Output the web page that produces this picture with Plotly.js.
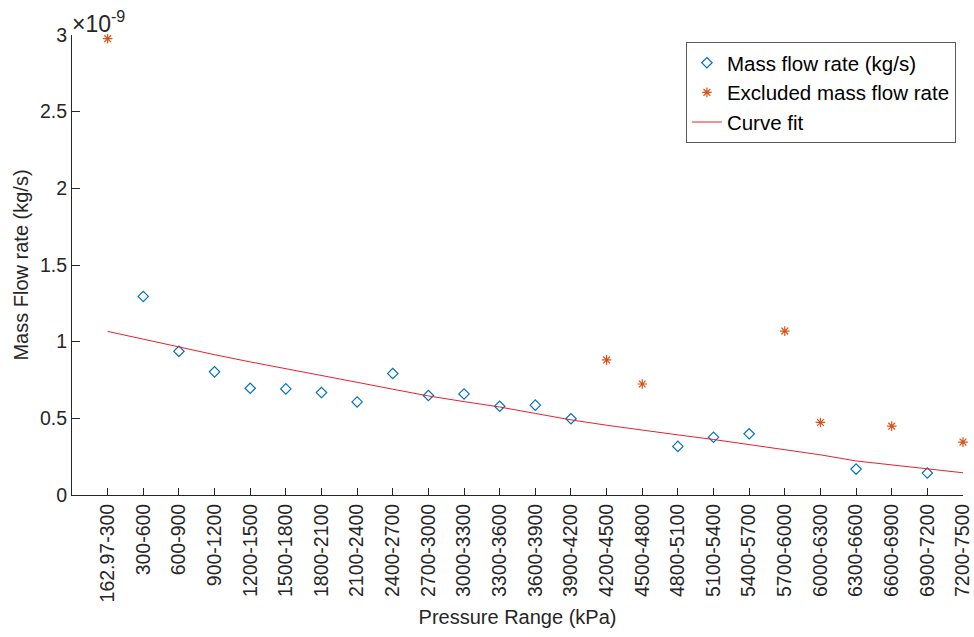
<!DOCTYPE html>
<html>
<head>
<meta charset="utf-8">
<script src="https://cdn.plot.ly/plotly-3.0.1.min.js"></script>
<style>
  html, body { margin: 0; padding: 0; background: #fff; }
  #chart { width: 974px; height: 637px; }
</style>
</head>
<body>
<div id="chart"></div>
<script>
// Pressure range categories (kPa)
const categories = [
  "162.97-300", "300-600", "600-900", "900-1200", "1200-1500", "1500-1800",
  "1800-2100", "2100-2400", "2400-2700", "2700-3000", "3000-3300", "3300-3600",
  "3600-3900", "3900-4200", "4200-4500", "4500-4800", "4800-5100", "5100-5400",
  "5400-5700", "5700-6000", "6000-6300", "6300-6600", "6600-6900", "6900-7200",
  "7200-7500"
];

// Mass flow rate (kg/s), in units of 1e-9
const massCats = [
  "300-600", "600-900", "900-1200", "1200-1500", "1500-1800", "1800-2100",
  "2100-2400", "2400-2700", "2700-3000", "3000-3300", "3300-3600", "3600-3900",
  "3900-4200", "4800-5100", "5100-5400", "5400-5700", "6300-6600", "6900-7200"
];
const massValues = [
  1.295, 0.937, 0.803, 0.696, 0.692, 0.668,
  0.607, 0.792, 0.649, 0.659, 0.579, 0.586,
  0.497, 0.317, 0.377, 0.399, 0.169, 0.143
];

// Excluded mass flow rate, in units of 1e-9
const excludedCats = [
  "162.97-300", "4200-4500", "4500-4800", "5700-6000", "6000-6300", "6600-6900", "7200-7500"
];
const excludedValues = [2.976, 0.881, 0.724, 1.069, 0.473, 0.449, 0.345];

// Curve fit, in units of 1e-9 (read at each category)
const fitValues = [
  1.067, 1.015, 0.963, 0.915, 0.868, 0.822, 0.778, 0.735, 0.690, 0.646,
  0.609, 0.574, 0.532, 0.490, 0.455, 0.422, 0.392, 0.362, 0.330, 0.295,
  0.262, 0.222, 0.195, 0.168, 0.145
];

// Y axis ticks
const yTickVals = [0, 0.5, 1, 1.5, 2, 2.5, 3];
const yTickText = ["0", "0.5", "1", "1.5", "2", "2.5", "3"];

const FONT = "Liberation Sans, Arial, Helvetica, sans-serif";
const AX = "#262626";

const traces = [
  {
    type: "scatter", mode: "markers", name: "Mass flow rate (kg/s)",
    x: massCats, y: massValues, cliponaxis: false,
    marker: { symbol: "diamond-open", size: 8, color: "#0072BD", line: { width: 1.2, color: "#0072BD" } }
  },
  {
    type: "scatter", mode: "markers", name: "Excluded mass flow rate",
    x: excludedCats, y: excludedValues, cliponaxis: false,
    marker: { symbol: "asterisk-open", size: 8, color: "#D95319", line: { width: 1.2, color: "#D95319" } }
  },
  {
    type: "scatter", mode: "lines", name: "Curve fit",
    x: categories, y: fitValues, cliponaxis: false,
    line: { color: "#E8202E", width: 1 }
  }
];

const layout = {
  width: 974, height: 637,
  paper_bgcolor: "#ffffff", plot_bgcolor: "#ffffff",
  margin: { l: 72, r: 11, t: 35, b: 142 },
  font: { family: FONT, size: 19.5, color: AX },
  showlegend: true,
  legend: {
    x: 0.689, y: 0.985, xanchor: "left", yanchor: "top",
    bgcolor: "#ffffff", bordercolor: "#5a5a5a", borderwidth: 1,
    font: { family: FONT, size: 20.5, color: "#000" },
    tracegroupgap: 0
  },
  xaxis: {
    type: "category", categoryorder: "array", categoryarray: categories,
    range: [-1, 24], tickangle: -90,
    showline: true, linecolor: AX, linewidth: 1,
    ticks: "inside", ticklen: 7, tickcolor: AX, tickwidth: 1,
    showgrid: false, zeroline: false,
    tickfont: { family: FONT, size: 19.5, color: AX },
    title: { text: "Pressure Range (kPa)", font: { family: FONT, size: 20, color: AX }, standoff: 8 }
  },
  yaxis: {
    range: [0, 3], tickvals: yTickVals, ticktext: yTickText,
    showline: true, linecolor: AX, linewidth: 1,
    ticks: "inside", ticklen: 8, tickcolor: AX, tickwidth: 1,
    showgrid: false, zeroline: false,
    tickfont: { family: FONT, size: 19.5, color: AX },
    title: { text: "Mass Flow rate (kg/s)", font: { family: FONT, size: 20, color: AX }, standoff: 5 }
  },
  annotations: [
    {
      xref: "paper", yref: "paper", x: 0, y: 1, xanchor: "left", yanchor: "bottom",
      text: "×10<sup>-9</sup>", showarrow: false, yshift: -4, xshift: -2,
      font: { family: FONT, size: 23, color: AX }
    }
  ]
};

Plotly.newPlot("chart", traces, layout, { displayModeBar: false, staticPlot: true });
</script>
</body>
</html>
